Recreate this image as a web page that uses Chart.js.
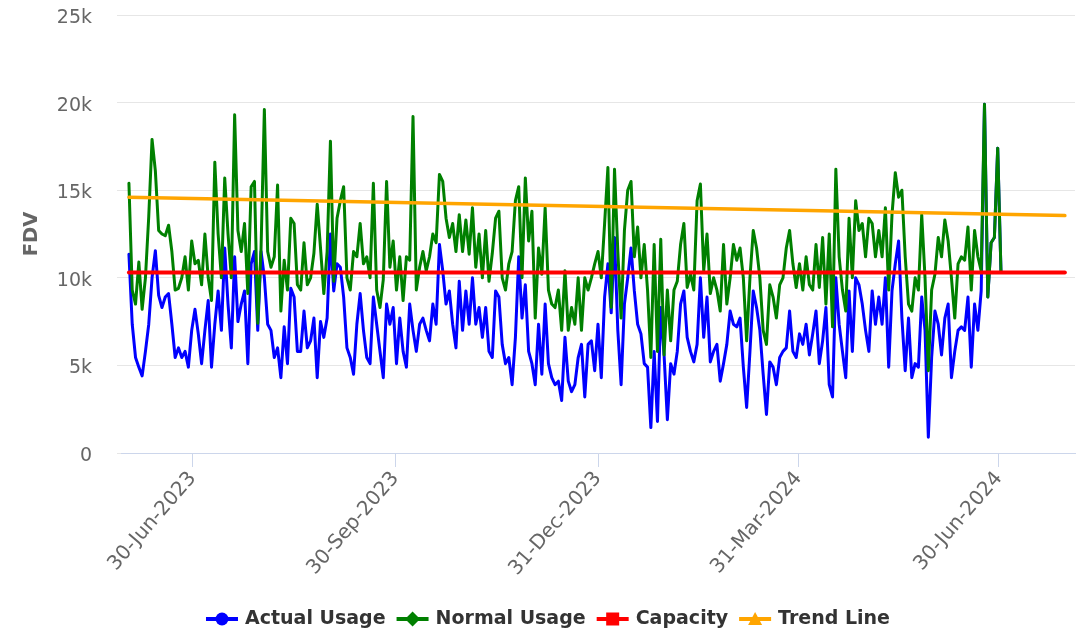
<!DOCTYPE html>
<html>
<head>
<meta charset="utf-8">
<title>FDV usage</title>
<script src="https://cdn.jsdelivr.net/npm/chart.js@4.4.0/dist/chart.umd.min.js"></script>
<style>
  body { margin: 0; background: #fff; }
  canvas { display: block; }
</style>
</head>
<body>
<canvas id="usage" width="1084" height="633"></canvas>
<script>
// readings are in thousands of FDV, one every 1.5 days starting 1-Jun-2023
const dayStep = 1.5;

const actualUsage = [
  11.35, 7.35, 5.45, 4.9, 4.4, 5.8, 7.35, 10.0, 11.55, 9.0,
  8.3, 8.9, 9.1, 7.35, 5.45, 6.0, 5.45, 5.8, 4.9, 7.0,
  8.2, 6.8, 5.1, 7.0, 8.7, 4.9, 7.35, 9.25, 7.0, 11.7,
  8.5, 6.0, 11.2, 7.5, 8.5, 9.25, 5.1, 10.8, 11.5, 7.0,
  11.5, 10.0,
  7.35, 7.0, 5.45, 6.0, 4.3, 7.2, 5.1, 9.4, 8.9, 5.8,
  5.8, 8.1, 6.0, 6.4, 7.7, 4.3, 7.5, 6.6, 7.7, 12.5,
  9.25, 10.8, 10.6, 8.9, 6.0, 5.45, 4.5, 7.35, 9.1, 7.0,
  5.45, 5.1, 8.9, 7.35, 5.8, 4.3, 8.5, 7.35, 8.3, 5.1,
  7.7, 5.8, 4.9, 8.5,
  7.0, 5.8, 7.35, 7.7, 7.0, 6.4, 8.5, 7.35, 11.9, 10.4,
  8.5, 9.25, 7.35, 6.0, 9.8, 7.0, 9.25, 7.35, 10.0, 7.35,
  8.3, 6.6, 8.3, 5.8, 5.45, 9.25, 8.9, 6.2, 5.1, 5.45,
  3.9, 6.6, 11.2, 7.7, 9.6, 5.8, 5.1, 3.9, 7.35, 4.5,
  8.5, 5.1, 4.3, 3.9,
  4.1, 3.0, 6.6, 4.1, 3.5, 3.9, 5.45, 6.2, 3.2, 6.2,
  6.4, 4.7, 7.35, 4.3, 8.9, 10.8, 8.0, 12.3, 7.0, 3.9,
  8.5, 10.0, 11.7, 9.25, 7.35, 6.8, 5.1, 4.9, 1.45, 5.8,
  1.8, 8.3, 5.6, 1.9, 5.1, 4.5, 5.8, 8.5, 9.25, 6.6,
  5.8, 5.2, 6.2, 10.0,
  6.6, 8.9, 5.2, 5.8, 6.2, 4.1, 5.1, 6.2, 8.1, 7.35,
  7.2, 7.7, 4.9, 2.6, 5.8, 9.25, 8.3, 7.0, 4.5, 2.2,
  5.2, 4.9, 3.9, 5.45, 5.8, 6.0, 8.1, 5.8, 5.45, 6.8,
  6.2, 7.35, 5.6, 6.8, 8.1, 5.1, 6.4, 8.3, 3.9, 3.2,
  10.0, 7.35, 5.8, 4.3,
  9.25, 5.8, 10.0, 9.6, 8.5, 7.0, 5.8, 9.25, 7.35, 8.9,
  7.35, 10.0, 4.9, 9.25, 10.8, 12.1, 7.7, 4.7, 7.7, 4.3,
  5.1, 4.9, 8.9, 7.0, 0.9, 5.45, 8.1, 7.35, 5.6, 7.7,
  8.5, 4.3, 5.8, 7.0, 7.2, 7.0, 8.9, 4.9, 8.5, 7.0,
  9.25, 19.9, 8.9, 12.0, 12.3, 17.4, 10.3
];

const normalUsage = [
  15.4, 9.3, 8.5, 10.9, 8.2, 10.0, 13.5, 17.9, 16.1, 12.7,
  12.5, 12.4, 13.0, 11.5, 9.3, 9.4, 10.0, 11.2, 9.3, 12.1,
  10.8, 11.0, 9.6, 12.5, 10.0, 8.7, 16.6, 12.5, 10.0, 15.7,
  12.5, 10.0, 19.3, 12.7, 11.5, 13.1, 9.1, 15.2, 15.5, 7.4,
  11.7, 19.6,
  11.5, 10.6, 11.2, 15.3, 8.1, 11.0, 9.3, 13.4, 13.1, 9.6,
  9.3, 12.0, 9.6, 10.0, 11.4, 14.2, 11.7, 9.1, 11.5, 17.8,
  9.8, 13.4, 14.4, 15.2, 10.0, 9.3, 11.5, 11.2, 13.1, 10.8,
  11.2, 10.0, 15.4, 9.3, 8.3, 9.9, 15.5, 10.6, 12.1, 9.3,
  11.2, 8.7, 11.2, 11.0,
  19.2, 9.3, 10.6, 11.5, 10.4, 11.2, 12.5, 12.0, 15.9, 15.5,
  13.4, 12.3, 13.1, 11.5, 13.6, 11.5, 13.3, 11.35, 14.0, 10.6,
  12.5, 10.0, 12.7, 9.8, 11.4, 13.4, 13.8, 10.0, 9.3, 10.8,
  11.5, 14.4, 15.2, 10.0, 15.7, 12.1, 13.8, 7.7, 11.7, 10.2,
  14.0, 9.3, 8.5, 8.3,
  9.3, 7.0, 10.4, 7.0, 8.3, 7.35, 10.0, 7.0, 10.0, 9.3,
  10.0, 10.8, 11.5, 10.0, 13.1, 16.3, 8.3, 16.2, 11.5, 7.7,
  12.7, 15.0, 15.5, 11.2, 12.9, 10.0, 11.9, 9.3, 5.45, 11.9,
  5.8, 12.2, 5.6, 9.3, 6.4, 9.3, 9.8, 11.9, 13.1, 9.45,
  10.2, 9.3, 14.4, 15.35,
  10.4, 12.5, 9.1, 10.0, 9.3, 8.1, 11.9, 8.5, 10.0, 11.9,
  11.0, 11.7, 10.0, 6.4, 10.0, 12.7, 11.7, 10.0, 7.0, 6.2,
  9.6, 8.9, 7.7, 9.6, 10.0, 11.7, 12.7, 10.8, 9.45, 10.8,
  9.3, 11.2, 9.6, 9.3, 11.9, 9.45, 12.3, 8.5, 12.5, 7.2,
  16.2, 11.2, 9.3, 8.1,
  13.4, 10.0, 14.4, 12.7, 13.1, 11.2, 13.4, 13.1, 11.2, 12.7,
  11.2, 14.0, 9.3, 13.6, 16.0, 14.6, 15.0, 11.2, 8.5, 8.1,
  10.0, 9.3, 13.6, 10.0, 4.7, 9.3, 10.2, 12.3, 11.2, 13.3,
  12.1, 10.0, 7.7, 10.8, 11.2, 11.0, 12.9, 9.3, 12.7, 11.2,
  10.4, 19.9, 8.9, 12.0, 12.3, 17.4, 10.3
];

// capacity and trend line only need their two end points (days from 1-Jun-2023)
const lineDays = [0, 425];
const capacity = [10.3, 10.3];
const trendLine = [14.6, 13.55];

const tickDays = [29, 121, 213, 304, 395];
const tickLabels = ['30-Jun-2023', '30-Sep-2023', '31-Dec-2023', '31-Mar-2024', '30-Jun-2024'];

const seriesNames = ['Actual Usage', 'Normal Usage', 'Capacity', 'Trend Line'];
const seriesColors = ['#0000ff', '#008000', '#ff0000', '#ffa500'];
const seriesMarkers = ['circle', 'diamond', 'square', 'triangle'];

const fontFamily = '"DejaVu Sans", Verdana, sans-serif';

function toPoints(days, values) {
  return values.map((v, i) => ({ x: days[i], y: v }));
}

function dailyPoints(values) {
  return values.map((v, i) => ({ x: i * dayStep, y: v }));
}

function drawMarker(ctx, shape, x, y, color) {
  ctx.fillStyle = color;
  ctx.beginPath();
  if (shape === 'circle') {
    ctx.arc(x, y, 6.5, 0, Math.PI * 2);
  }
  else if (shape === 'diamond') {
    ctx.moveTo(x, y - 7.5);
    ctx.lineTo(x + 7.5, y);
    ctx.lineTo(x, y + 7.5);
    ctx.lineTo(x - 7.5, y);
  }
  else if (shape === 'square') {
    ctx.rect(x - 6.5, y - 6.5, 13, 13);
  }
  else {
    ctx.moveTo(x, y - 7);
    ctx.lineTo(x + 7, y + 6);
    ctx.lineTo(x - 7, y + 6);
  }
  ctx.closePath();
  ctx.fill();
}

// highcharts style legend: a short line with the series marker on it
const bottomLegend = {
  id: 'bottomLegend',
  afterDraw(chart) {
    const ctx = chart.ctx;
    const symbolWidth = 32;
    const textGap = 7;
    const itemGap = 11;
    const y = 619;

    ctx.save();
    ctx.font = 'bold 19px ' + fontFamily;
    const widths = seriesNames.map(name => ctx.measureText(name).width);
    const total = widths.reduce((acc, w) => acc + symbolWidth + textGap + w, 0) + itemGap * (seriesNames.length - 1);
    let x = 548 - total / 2;

    seriesNames.forEach((name, i) => {
      ctx.strokeStyle = seriesColors[i];
      ctx.lineWidth = 4;
      ctx.beginPath();
      ctx.moveTo(x, y);
      ctx.lineTo(x + symbolWidth, y);
      ctx.stroke();
      drawMarker(ctx, seriesMarkers[i], x + symbolWidth / 2, y, seriesColors[i]);

      ctx.fillStyle = '#333333';
      ctx.textAlign = 'left';
      ctx.textBaseline = 'middle';
      ctx.fillText(name, x + symbolWidth + textGap, y);
      x += symbolWidth + textGap + widths[i] + itemGap;
    });
    ctx.restore();
  }
};

const usageData = {
  datasets: [
    {
      label: seriesNames[0],
      data: dailyPoints(actualUsage),
      borderColor: seriesColors[0],
      borderWidth: 3,
      order: 4
    },
    {
      label: seriesNames[1],
      data: dailyPoints(normalUsage),
      borderColor: seriesColors[1],
      borderWidth: 3,
      order: 3
    },
    {
      label: seriesNames[2],
      data: toPoints(lineDays, capacity),
      borderColor: seriesColors[2],
      borderWidth: 4,
      order: 2
    },
    {
      label: seriesNames[3],
      data: toPoints(lineDays, trendLine),
      borderColor: seriesColors[3],
      borderWidth: 3.5,
      order: 1
    }
  ]
};

const usageOptions = {
  responsive: false,
  animation: false,
  layout: {
    autoPadding: false,
    padding: { top: 15, right: 9, bottom: 0, left: 0 }
  },
  elements: {
    point: { radius: 0 },
    line: { tension: 0, borderJoinStyle: 'round', borderCapStyle: 'round', fill: false }
  },
  plugins: {
    legend: { display: false },
    tooltip: { enabled: false }
  },
  scales: {
    x: {
      type: 'linear',
      min: -3.6,
      max: 429.6,
      afterBuildTicks: scale => {
        scale.ticks = tickDays.map(d => ({ value: d }));
      },
      afterFit: scale => {
        scale.height = 180;
        scale.paddingLeft = 0;
        scale.paddingRight = 0;
      },
      grid: {
        drawOnChartArea: false,
        color: '#ccd6eb',
        tickLength: 14
      },
      border: { color: '#ccd6eb', width: 1 },
      ticks: {
        autoSkip: false,
        minRotation: 49,
        maxRotation: 49,
        padding: 0,
        color: '#666666',
        font: { family: fontFamily, size: 20 },
        callback: value => tickLabels[tickDays.indexOf(value)]
      }
    },
    y: {
      min: 0,
      max: 25,
      afterFit: scale => {
        scale.width = 121;
        scale.paddingTop = 0;
        scale.paddingBottom = 0;
      },
      grid: {
        color: '#e6e6e6',
        tickColor: '#e6e6e6',
        tickLength: 4
      },
      border: { display: false },
      ticks: {
        stepSize: 5,
        padding: 25,
        labelOffset: 3,
        color: '#666666',
        font: { family: fontFamily, size: 19 },
        callback: value => value === 0 ? '0' : value + 'k'
      },
      title: {
        display: true,
        text: 'FDV',
        color: '#666666',
        font: { family: fontFamily, size: 19.5, weight: 'bold' },
        padding: { top: 20, bottom: 0 }
      }
    }
  }
};

function makeChart(canvas, type, data, options) {
  const ctx = canvas.getContext('2d');
  return new Chart(ctx, {
    type: type,
    data: data,
    options: options,
    plugins: [bottomLegend]
  });
}

makeChart(document.getElementById('usage'), 'line', usageData, usageOptions);
</script>
</body>
</html>
